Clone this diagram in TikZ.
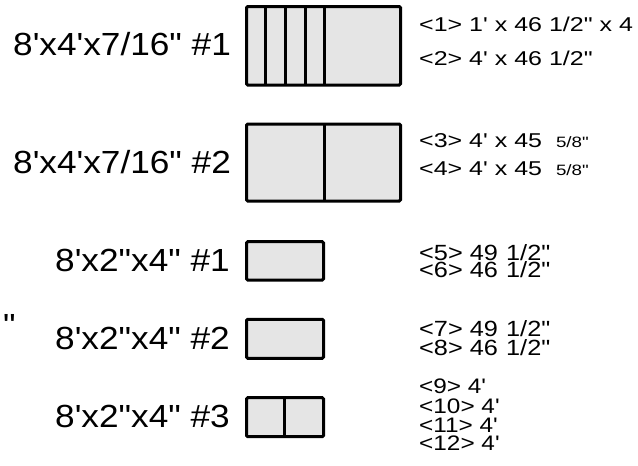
\documentclass[tikz,border=0pt]{standalone}
\usepackage{fontspec}
\usepackage{graphicx}
\newfontfamily\lib{Liberation Sans}
\definecolor{boardgray}{HTML}{E5E5E5}
\newcommand{\hs}[2]{\scalebox{#1}[1]{#2}}
\begin{document}
\begin{tikzpicture}[x=1pt,y=-1pt,
  board/.style={draw=black,line width=3pt,fill=boardgray,rounded corners=1.2pt},
  cut/.style={draw=black,line width=3pt},
  big/.style={font=\lib\fontsize{32}{32}\selectfont,inner sep=0pt,anchor=base west},
  med/.style={font=\lib\fontsize{20}{20}\selectfont,inner sep=0pt,anchor=base west},
  tall/.style={font=\lib\fontsize{22}{22}\selectfont,inner sep=0pt,anchor=base west},
  tallb/.style={font=\lib\fontsize{21}{21}\selectfont,inner sep=0pt,anchor=base west}]
\useasboundingbox (0,0) rectangle (638,466);
% boards
\draw[board] (246.5,6.5) rectangle (400.5,85);
\foreach \xx in {265.7,285,305,324} \draw[cut] (\xx,6.5) -- (\xx,85);
\draw[board] (246.5,124) rectangle (400.5,201);
\draw[cut] (324,124) -- (324,201);
\draw[board] (246.5,241.7) rectangle (323.5,280);
\draw[board] (246.5,319.3) rectangle (323.5,358.3);
\draw[board] (246.5,397.7) rectangle (323.5,436.7);
\draw[cut] (284.3,397.7) -- (284.3,436.7);
% left labels
\node[big] (l1) at (13,55) {\hs{1.1}{8'x4'x7/16" \#1}};
\node[big] (l2) at (13,173.3) {\hs{1.1}{8'x4'x7/16" \#2}};
\node[big] (l3) at (55,271.7) {\hs{1.1}{8'x2"x4" \#1}};
\node[big] (l4) at (55,349.5) {\hs{1.1}{8'x2"x4" \#2}};
\node[big] (l5) at (55,427.3) {\hs{1.1}{8'x2"x4" \#3}};
\node[big] (q) at (3,336.6) {\hs{1.1}{"}};
% right labels
\node[med] (r1) at (419,31) {\hs{1.25}{<1> 1' x 46 1/2" x 4}};
\node[med] (r2) at (419,65) {\hs{1.25}{<2> 4' x 46 1/2"}};
\node[med] (r3) at (419,147) {\hs{1.25}{<3> 4' x 45\ \ {\fontsize{15}{15}\selectfont 5/8"}}};
\node[med] (r4) at (419,175) {\hs{1.25}{<4> 4' x 45\ \ {\fontsize{15}{15}\selectfont 5/8"}}};
\node[tall] (r5) at (419,260) {\hs{1.15}{<5> 49\ \hspace{1pt}1/2"}};
\node[tall] (r6) at (419,277.7) {\hs{1.15}{<6> 46\ \hspace{1pt}1/2"}};
\node[tall] (r7) at (419,336) {\hs{1.15}{<7> 49\ \hspace{1pt}1/2"}};
\node[tall] (r8) at (419,355) {\hs{1.15}{<8> 46\ \hspace{1pt}1/2"}};
\node[tallb] (r9) at (419,393) {\hs{1.16}{<9> 4'}};
\node[tallb] (r10) at (419,413) {\hs{1.16}{<10> 4'}};
\node[tallb] (r11) at (419,432) {\hs{1.16}{<11> 4'}};
\node[tallb] (r12) at (419,450) {\hs{1.16}{<12> 4'}};
\end{tikzpicture}
\end{document}
